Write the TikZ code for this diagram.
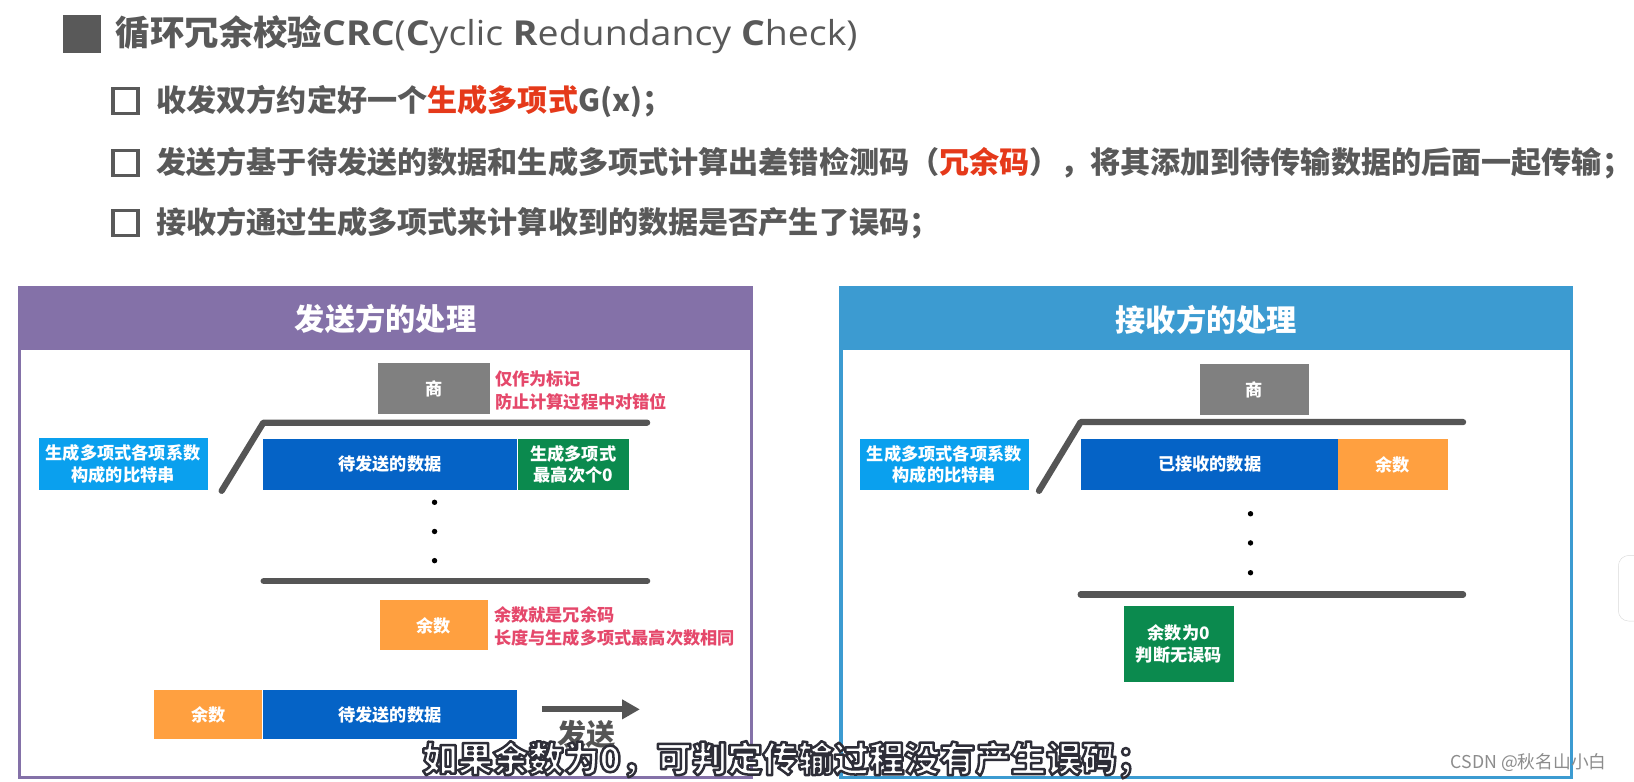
\documentclass[tikz,border=0pt]{standalone}
\usepackage{fontspec}
\setmainfont{Noto Sans CJK SC}
\newfontfamily\latinfont{Open Sans}[FakeStretch=1.09]
\usetikzlibrary{positioning, arrows.meta}

\definecolor{textgray}{HTML}{595959}
\definecolor{keyred}{HTML}{E5391A}
\definecolor{notered}{HTML}{E5486B}
\definecolor{sendpurple}{HTML}{8471A8}
\definecolor{recvblue}{HTML}{3C9BD1}
\definecolor{quogray}{HTML}{808080}
\definecolor{polyblue}{HTML}{0AA0EE}
\definecolor{datablue}{HTML}{0563C6}
\definecolor{zerogreen}{HTML}{0B8A4E}
\definecolor{remorange}{HTML}{FFA040}
\definecolor{bargray}{HTML}{555555}
\definecolor{markgray}{HTML}{8C8C8C}

\newcommand{\fs}[2]{\fontsize{#1}{#2}\selectfont}
% white letters with a dark rim, as a video subtitle
\newcommand{\rimtext}[1]{\special{pdf:literal direct 2 Tr 2.4 w 1 j 0.18 0.18 0.22 RG}#1}

\tikzset{
  heading/.style={anchor=west, inner sep=0pt, text=textgray, font=\bfseries\fs{33}{40}},
  bullet/.style={anchor=west, inner sep=0pt, text=textgray, font=\bfseries\fs{28.9}{34}},
  tickbox/.style={draw=textgray, line width=3.2pt, minimum size=24pt, inner sep=0pt},
  headtext/.style={text=white, font=\bfseries\fs{29}{34}},
  block/.style={rectangle, inner sep=0pt, minimum height=49pt, text=white, align=center, font=\bfseries\fs{16.5}{21}},
  note/.style={anchor=west, inner sep=0pt, text=notered, align=left, font=\bfseries\fs{16.5}{22}},
  divbar/.style={draw=bargray, line width=6pt, line cap=round, line join=round},
  sendarrow/.style={draw=bargray, line width=6pt, -{Triangle[length=17pt,width=18pt]}},
  subtitle/.style={inner sep=0pt, text=white, font=\bfseries\fs{34}{40}},
}

\begin{document}
\begin{tikzpicture}[x=1pt, y=-1pt]
    \fill[white] (0,0) rectangle (1568,750);
    \useasboundingbox (0,0) rectangle (1568,750);

    % Title and bullets
    \fill[textgray] (60,14) rectangle (97,51);
    \node[heading] (title) at (111,33.6) {循环冗余校验{\latinfont CRC{\mdseries(}C{\mdseries yclic }R{\mdseries edundancy }C{\mdseries heck)}}};
    \node[tickbox] (tick1) at (120.5,97) {};
    \node[tickbox] (tick2) at (120.5,156.5) {};
    \node[tickbox] (tick3) at (120.5,214) {};
    \node[bullet] (item1) at (150,97) {收发双方约定好一个\textcolor{keyred}{生成多项式}G(x)；};
    \node[bullet] (item2) at (150,156.5) {发送方基于待发送的数据和生成多项式计算出差错检测码（\textcolor{keyred}{冗余码}），将其添加到待传输数据的后面一起传输；};
    \node[bullet] (item3) at (150,214) {接收方通过生成多项式来计算收到的数据是否产生了误码；};

    % Sender panel
    \fill[sendpurple] (19,276) rectangle (721,336);
    \draw[sendpurple, line width=3pt] (19,276) rectangle (721,746);
    \node[headtext] (sendHead) at (370,306) {发送方的处理};

    \node[block, fill=quogray, minimum width=107pt, anchor=north west] (quoL) at (363,348) {商};
    \node[note] (quoNoteL) at (475,374.5) {仅作为标记\\防止计算过程中对错位};
    \node[block, fill=polyblue, minimum width=162pt, minimum height=50pt, anchor=north west] (polyL) at (37,420) {生成多项式各项系数\\构成的比特串};
    \node[block, fill=datablue, minimum width=244pt, anchor=north west] (dataL) at (252,421) {待发送的数据};
    \node[block, fill=zerogreen, minimum width=107pt, right=0pt of dataL] (zeroL) {生成多项式\\最高次个0};
    \draw[divbar] (212.7,471) -- (252.7,405.6) -- (621,405.6);
    \foreach \y in {482,510,538}
        \fill (417,\y) circle (2.6pt);
    \draw[divbar] (253,557.6) -- (621,557.6);
    \node[block, fill=remorange, minimum width=104pt, minimum height=48pt, anchor=north west] (remL) at (364,576) {余数};
    \node[note] (remNoteL) at (474,601.5) {余数就是冗余码\\长度与生成多项式最高次数相同};

    % Sent frame
    \node[block, fill=datablue, minimum width=244pt, minimum height=47pt, anchor=north west] (sendData) at (252,662) {待发送的数据};
    \node[block, fill=remorange, minimum width=104pt, minimum height=47pt, left=0pt of sendData] (sendRem) {余数};
    \coordinate (arrowS) at (520,680.7);
    \coordinate (arrowE) at (614,680.7);
    \draw[sendarrow] (arrowS) -- (arrowE);
    \node[text=bargray, font=\bfseries\fs{28}{32}] (sendLabel) at (563,705) {发送};

    % Receiver panel
    \fill[recvblue] (807,276) rectangle (1508,336);
    \draw[recvblue, line width=3pt] (807,276) rectangle (1508,746);
    \node[headtext] (recvHead) at (1157.5,307) {接收方的处理};

    \node[block, fill=quogray, minimum width=105pt, anchor=north west] (quoR) at (1151,349) {商};
    \node[block, fill=polyblue, minimum width=162pt, anchor=north west] (polyR) at (825,421) {生成多项式各项系数\\构成的比特串};
    \node[block, fill=datablue, minimum width=246pt, anchor=north west] (dataR) at (1037.6,421) {已接收的数据};
    \node[block, fill=remorange, minimum width=105pt, right=0pt of dataR] (remR) {余数};
    \draw[divbar] (997,471) -- (1037,405) -- (1404,405);
    \foreach \y in {493,521,549.6}
        \fill (1200,\y) circle (2.6pt);
    \draw[divbar] (1037,570.4) -- (1404,570.4);
    \node[block, fill=zerogreen, minimum width=105pt, minimum height=73pt, anchor=north west] (zeroR) at (1078.5,581.2) {余数为0\\判断无误码};

    % Subtitle, watermark, edge tab
    \node[subtitle] (subText) at (755.5,729) {\rimtext{如果余数为0，可判定传输过程没有产生误码；}};
    \node[anchor=west, inner sep=0pt, text=markgray, font=\fs{17}{20}] (mark) at (1392,732) {CSDN @秋名山小白};
    \draw[black!15, fill=white, rounded corners=10pt] (1553,533) rectangle (1600,596);
\end{tikzpicture}
\end{document}
